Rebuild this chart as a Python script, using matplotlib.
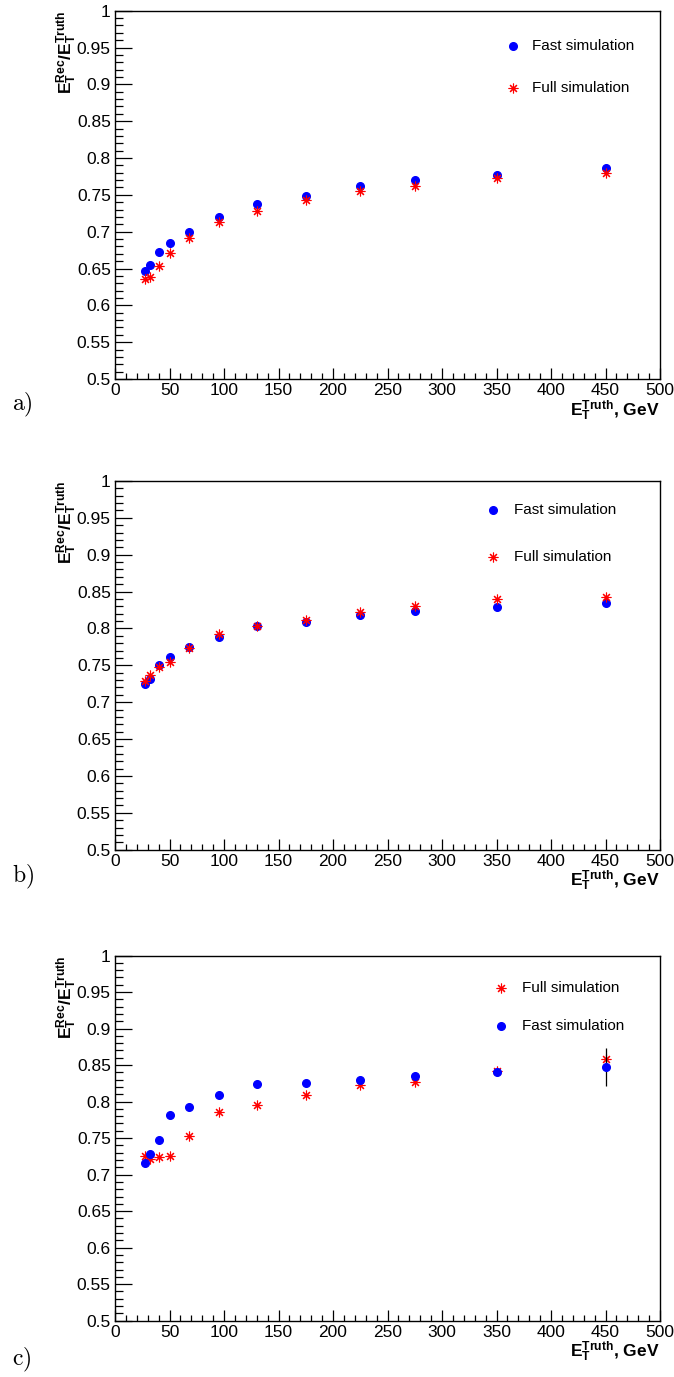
import numpy as np
import matplotlib
matplotlib.use("Agg")
import matplotlib.pyplot as plt
from matplotlib.ticker import MultipleLocator

plt.rcParams['font.family'] = ['Liberation Sans', 'DejaVu Sans']
plt.rcParams['mathtext.fontset'] = 'custom'
plt.rcParams['mathtext.rm'] = 'Liberation Sans:bold'
plt.rcParams['mathtext.bf'] = 'Liberation Sans:bold'
plt.rcParams['mathtext.it'] = 'Liberation Sans:bold'

# E_T truth bin centres, GeV
et_truth = [27.5, 32.5, 40, 50, 67.5, 95, 130, 175, 225, 275, 350, 450]

# a)
fast_a = [0.646, 0.655, 0.672, 0.684, 0.700, 0.720, 0.737, 0.748, 0.762, 0.770, 0.777, 0.786]
full_a = [0.636, 0.639, 0.653, 0.671, 0.691, 0.713, 0.728, 0.743, 0.755, 0.762, 0.773, 0.780]
# b)
fast_b = [0.725, 0.732, 0.751, 0.762, 0.775, 0.788, 0.803, 0.809, 0.818, 0.824, 0.829, 0.835]
full_b = [0.729, 0.737, 0.748, 0.754, 0.773, 0.792, 0.804, 0.812, 0.823, 0.831, 0.840, 0.843]
# c)
fast_c = [0.716, 0.728, 0.747, 0.781, 0.792, 0.809, 0.824, 0.825, 0.830, 0.835, 0.840, 0.848]
full_c = [0.726, 0.722, 0.724, 0.725, 0.753, 0.786, 0.796, 0.809, 0.823, 0.827, 0.842, 0.858]
fast_c_err_lo = [0, 0, 0, 0, 0, 0, 0, 0, 0, 0, 0, 0.027]
fast_c_err_hi = [0, 0, 0, 0, 0, 0, 0, 0, 0, 0, 0, 0.026]

W, H = 674, 1377
fig = plt.figure(figsize=(W / 100, H / 100), dpi=100)

ylab = r'$\mathbf{E_T^{Rec}/E_T^{Truth}}$'
xlab = r'$\mathbf{E_T^{Truth}}$, GeV'

blue = '#0000ff'
red = '#ff0000'
star = (8, 2, 0)
ms_dot = 5.5
ms_star = 7
mew_star = 0.8


def make_axes(top_px, bot_px, left_px=115, right_px=660):
    ax = fig.add_axes([left_px / W, 1 - bot_px / H,
                       (right_px - left_px) / W, (bot_px - top_px) / H])
    ax.set_xlim(0, 500)
    ax.set_ylim(0.5, 1.0)
    ax.xaxis.set_major_locator(MultipleLocator(50))
    ax.xaxis.set_minor_locator(MultipleLocator(10))
    ax.yaxis.set_major_locator(MultipleLocator(0.05))
    ax.yaxis.set_minor_locator(MultipleLocator(0.01))
    ax.yaxis.set_major_formatter(plt.FuncFormatter(lambda v, p: ('%.2f' % v).rstrip('0').rstrip('.')))
    ax.tick_params(axis='x', which='major', direction='in', length=8, width=0.9, labelsize=12.5, pad=3)
    ax.tick_params(axis='x', which='minor', direction='in', length=4.5, width=0.9)
    ax.tick_params(axis='y', which='major', direction='in', length=12, width=0.9, labelsize=12.5, pad=3)
    ax.tick_params(axis='y', which='minor', direction='in', length=6, width=0.9)
    for s in ax.spines.values():
        s.set_linewidth(1.0)
    ax.text(-0.088, 1.0, ylab, transform=ax.transAxes, rotation=90,
            ha='center', va='top', fontsize=12.5)
    ax.text(1.0, -0.052, xlab, transform=ax.transAxes,
            ha='right', va='top', fontsize=12.5, fontweight='bold')
    return ax


def legend_entry(ax, xm, y, xt, marker, color, ms, label):
    if marker == 'o':
        ax.plot([xm], [y], 'o', color=color, ms=ms, transform=ax.transAxes, clip_on=False)
    else:
        ax.plot([xm], [y], marker=marker, color=color, ms=ms, mew=mew_star,
                linestyle='none', transform=ax.transAxes, clip_on=False)
    ax.text(xt, y, label, transform=ax.transAxes, ha='left', va='center', fontsize=11)


def panel_label(ax, text, y_px):
    fig.text(12 / W, 1 - y_px / H, r'$\mathrm{' + text + ')}$', math_fontfamily='cm',
             fontsize=17, ha='left', va='center')


# panel a
ax = make_axes(10.7, 379)
ax.plot(et_truth, fast_a, 'o', color=blue, ms=ms_dot, zorder=3)
ax.plot(et_truth, full_a, marker=star, color=red, ms=ms_star, mew=mew_star, linestyle='none', zorder=4)
legend_entry(ax, 0.730, 0.904, 0.765, 'o', blue, ms_dot, 'Fast simulation')
legend_entry(ax, 0.730, 0.790, 0.765, star, red, ms_star, 'Full simulation')
panel_label(ax, 'a', 405)

# panel b
ax = make_axes(481, 849.7)
ax.plot(et_truth, fast_b, 'o', color=blue, ms=ms_dot, zorder=3)
ax.plot(et_truth, full_b, marker=star, color=red, ms=ms_star, mew=mew_star, linestyle='none', zorder=4)
legend_entry(ax, 0.694, 0.921, 0.732, 'o', blue, ms_dot, 'Fast simulation')
legend_entry(ax, 0.694, 0.794, 0.732, star, red, ms_star, 'Full simulation')
panel_label(ax, 'b', 877)

# panel c
ax = make_axes(955.5, 1320.7)
ax.plot(et_truth, full_c, marker=star, color=red, ms=ms_star, mew=mew_star, linestyle='none', zorder=3)
ax.errorbar(et_truth, fast_c, yerr=[fast_c_err_lo, fast_c_err_hi], fmt='o', color=blue,
            ms=ms_dot, ecolor='black', elinewidth=0.9, capsize=0, zorder=4)
legend_entry(ax, 0.708, 0.911, 0.747, star, red, ms_star, 'Full simulation')
legend_entry(ax, 0.708, 0.807, 0.747, 'o', blue, ms_dot, 'Fast simulation')
panel_label(ax, 'c', 1360)

fig.savefig('out.png', dpi=100)
